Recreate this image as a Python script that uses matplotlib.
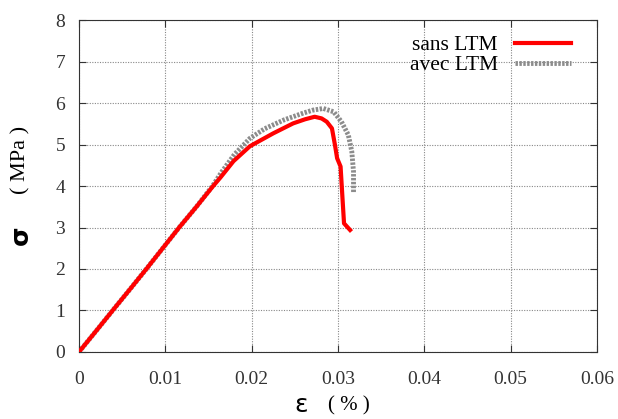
import matplotlib
matplotlib.use('Agg')
from matplotlib import pyplot as plt

plt.rcParams['font.family'] = ['Liberation Serif', 'DejaVu Serif']

# sans LTM
eps_sans = [0, 0.002, 0.0039, 0.0059, 0.0078, 0.0097, 0.0116, 0.0136, 0.0155,
            0.0164, 0.0179, 0.0198, 0.0225, 0.0248, 0.0262, 0.0273, 0.0281,
            0.0287, 0.0293, 0.02965, 0.0299, 0.0303, 0.0305, 0.0307, 0.0314]
sig_sans = [0, 0.51, 1.0, 1.51, 2.0, 2.5, 3.0, 3.5, 3.99,
            4.21, 4.6, 4.96, 5.27, 5.51, 5.61, 5.67, 5.63,
            5.55, 5.39, 4.99, 4.67, 4.47, 3.78, 3.10, 2.94]

# avec LTM
eps_avec = [0, 0.002, 0.0039, 0.0059, 0.0078, 0.0097, 0.0116, 0.0136, 0.0155,
            0.0165, 0.0180, 0.0198, 0.0215, 0.0237, 0.0260, 0.0271, 0.0283,
            0.0295, 0.0304, 0.0312, 0.0316, 0.0318, 0.0318]
sig_avec = [0, 0.51, 1.0, 1.51, 2.0, 2.5, 3.0, 3.5, 4.01,
            4.33, 4.76, 5.15, 5.38, 5.59, 5.76, 5.83, 5.87,
            5.79, 5.55, 5.23, 4.83, 4.34, 3.82]

fig = plt.figure(figsize=(6.18, 4.19), dpi=100)
ax = fig.add_axes([0.1278, 0.16, 0.966 - 0.1278, 0.952 - 0.16])

ax.plot(eps_sans, sig_sans, color='red', lw=3, label='sans LTM', zorder=3)
ax.plot(eps_avec, sig_avec, color='#8c8c8c', lw=3.5, linestyle=(0, (0.5, 0.3)),
        label='avec LTM', zorder=2)

ax.set_xlim(0, 0.06)
ax.set_ylim(0, 8)
ax.set_xticks([0, 0.01, 0.02, 0.03, 0.04, 0.05, 0.06])
ax.set_xticklabels(['0', '0.01', '0.02', '0.03', '0.04', '0.05', '0.06'])
ax.set_yticks(range(0, 9))
ax.tick_params(direction='in', top=True, right=True, labelsize=14, length=5,
               colors='#333333')
ax.tick_params(axis='x', pad=14)
ax.tick_params(axis='y', pad=10)
ax.grid(True, color='#888888', linestyle=(0, (1, 1.3)), lw=0.8)
for s in ax.spines.values():
    s.set_color('#333333')

leg = ax.legend(loc='upper right', frameon=False, markerfirst=False,
                fontsize=15.5, handlelength=2.6, borderaxespad=0, borderpad=0,
                bbox_to_anchor=(571 / 618, 1 - 35 / 419),
                bbox_transform=fig.transFigure,
                labelspacing=0.0, handletextpad=0.8)

fig.text(301 / 618, 1 - 405 / 419, 'ε', fontsize=18, ha='center', va='center',
         family='DejaVu Sans')
fig.text(349 / 618, 1 - 406 / 419, '( % )', fontsize=15, ha='center', va='center')
fig.text(21 / 618, 1 - 235 / 419, 'σ', fontsize=18, ha='center', va='center',
         rotation=90, family='DejaVu Sans', weight='bold')
fig.text(21 / 618, 1 - 160 / 419, '( MPa )', fontsize=16, ha='center', va='center',
         rotation=90)

fig.savefig('out.png', dpi=100)
